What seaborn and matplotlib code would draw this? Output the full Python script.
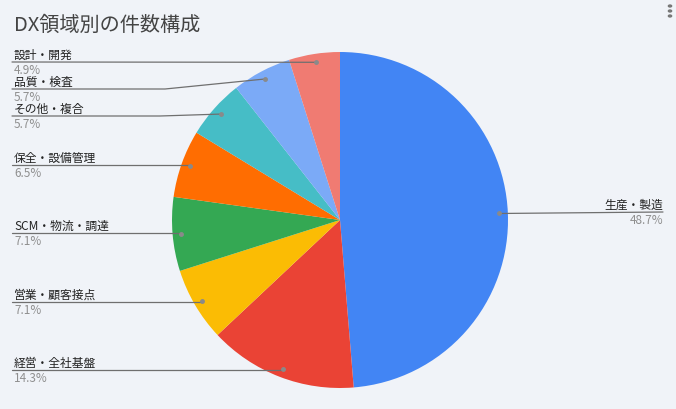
import matplotlib
matplotlib.use("Agg")
import matplotlib.pyplot as plt
import seaborn as sns
import numpy as np

# data
categories = ['生産・製造', '経営・全社基盤', '営業・顧客接点', 'SCM・物流・調達',
              '保全・設備管理', 'その他・複合', '品質・検査', '設計・開発']
shares = [48.7, 14.3, 7.1, 7.1, 6.5, 5.7, 5.7, 4.9]
colors = ['#4285F4', '#EA4335', '#FBBC04', '#34A853',
          '#FF6D01', '#46BDC6', '#7BAAF7', '#F07B72']

sns.set_style("white")
plt.rcParams['font.family'] = ['Noto Sans CJK JP', 'DejaVu Sans']

BG = '#F0F3F8'
W, H = 676, 409
CX, CY, R = 340, 220, 168   # pie centre / radius in pixels

fig = plt.figure(figsize=(W / 100, H / 100), dpi=100, facecolor=BG)
ax = fig.add_axes([(CX - R) / W, (H - CY - R) / H, 2 * R / W, 2 * R / H])
ax.set_facecolor(BG)

wedges, _ = ax.pie(shares, colors=colors, startangle=90, counterclock=False,
                   radius=1.0, wedgeprops=dict(linewidth=0))
ax.set_xlim(-1, 1)
ax.set_ylim(-1, 1)
ax.set_aspect('equal')
ax.axis('off')


def to_data(px, py):
    return (px - CX) / R, (CY - py) / R


# label layout (pixel y of underline, knee x)
label_y = {'経営・全社基盤': 370, '営業・顧客接点': 302, 'SCM・物流・調達': 233,
           '保全・設備管理': 165, 'その他・複合': 116, '品質・検査': 89, '設計・開発': 62,
           '生産・製造': 212}
knee_x = {'その他・複合': 160, '品質・検査': 165, '設計・開発': 14}

line_col = '#6f6f6f'
up, down = 3 / R, 12 / R
for w, name, pct in zip(wedges, categories, shares):
    ang = np.deg2rad((w.theta1 + w.theta2) / 2)
    dx, dy = 0.95 * np.cos(ang), 0.95 * np.sin(ang)
    _, ly = to_data(0, label_y[name])
    if dx > 0:
        xr, _ = to_data(663, 0)
        ax.plot([dx, xr], [dy, ly], color=line_col, lw=0.9, clip_on=False)
        ha, xt = 'right', xr
    else:
        xl, _ = to_data(12, 0)
        xk = to_data(knee_x[name], 0)[0] if name in knee_x else dx
        ax.plot([xl, xk, dx], [ly, ly, dy], color=line_col, lw=0.9, clip_on=False)
        ha, xt = 'left', to_data(14, 0)[0]
    ax.text(xt, ly + up, name, ha=ha, va='baseline', fontsize=8.5, color='#222222')
    ax.text(xt, ly - down, f'{pct:.1f}%', ha=ha, va='baseline', fontsize=8.5,
            color='#8f8f8f')
    ax.plot(dx, dy, 'o', ms=2.5, color='#8a8a8a', clip_on=False)

fig.text(14 / W, 1 - 25 / H, 'DX領域別の件数構成', ha='left', va='center',
         fontsize=14.5, color='#444444')

# menu dots (top right)
for yy in (6, 11, 16):
    fig.patches.append(plt.Circle((670 / W, 1 - yy / H), 1.6 / W, color='#777777',
                                  transform=fig.transFigure))

fig.savefig('out.png', dpi=100, facecolor=BG)
